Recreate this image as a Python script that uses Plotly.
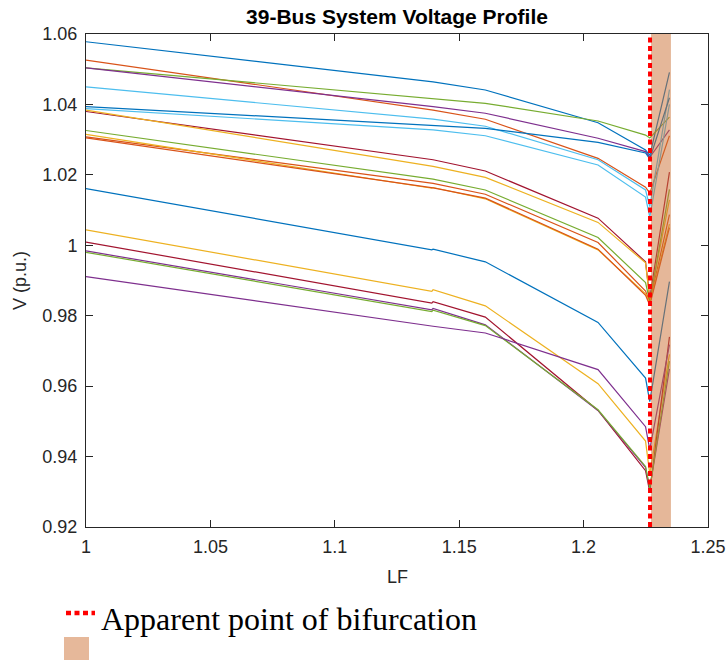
import plotly.graph_objects as go

# ---------------- data ----------------
LF = [1.0, 1.139, 1.1395, 1.1605, 1.2058, 1.2249, 1.2266, 1.2345]

series_names = ["blue1", "orange1", "green1", "purple1", "lb1", "blue2", "lb2",
                "darkred1", "yellow1", "green2", "orange2", "yellow2", "orange3",
                "blue3", "yellow3", "darkred2", "purple2", "green3", "purple3"]

blue1    = [1.0578, 1.0464, 1.0464, 1.0441, 1.0348, 1.0271, 1.0255, 1.0491]
orange1  = [1.0526, 1.0384, 1.0384, 1.0358, 1.0247, 1.0165, 1.0148, 1.0311]
green1   = [1.0504, 1.0415, 1.0415, 1.0403, 1.0353, 1.0313, 1.0305, 1.0364]
purple1  = [1.0504, 1.0394, 1.0394, 1.0375, 1.0304, 1.0266, 1.0250, 1.0328]
lb1      = [1.0450, 1.0358, 1.0358, 1.0338, 1.0243, 1.0157, 1.0110, 1.0442]
blue2    = [1.0394, 1.0339, 1.0339, 1.0332, 1.0292, 1.0262, 1.0245, 1.0419]
lb2      = [1.0388, 1.0328, 1.0328, 1.0311, 1.0228, 1.0137, 1.0080, 1.0400]
darkred1 = [1.0380, 1.0243, 1.0243, 1.0211, 1.0077, 0.9953, 0.9850, 1.0208]
yellow1  = [1.0384, 1.0224, 1.0224, 1.0193, 1.0065, 0.9950, 0.9845, 1.0129]
green2   = [1.0326, 1.0188, 1.0188, 1.0157, 1.0022, 0.9894, 0.9840, 1.0159]
orange2  = [1.0308, 1.0176, 1.0176, 1.0145, 1.0008, 0.9870, 0.9838, 1.0087]
yellow2  = [1.0315, 1.0162, 1.0164, 1.0132, 0.9987, 0.9862, 0.9835, 1.0060]
orange3  = [1.0305, 1.0162, 1.0163, 1.0134, 0.9989, 0.9858, 0.9830, 1.0050]
blue3    = [1.0161, 0.9987, 0.9989, 0.9953, 0.9781, 0.9623, 0.9556, 0.9897]
yellow3  = [1.0044, 0.9869, 0.9874, 0.9828, 0.9607, 0.9444, 0.9350, 0.9690]
darkred2 = [1.0009, 0.9836, 0.9840, 0.9796, 0.9531, 0.9360, 0.9300, 0.9740]
purple2  = [0.9984, 0.9817, 0.9821, 0.9774, 0.9531, 0.9369, 0.9310, 0.9649]
green3   = [0.9980, 0.9812, 0.9816, 0.9772, 0.9533, 0.9372, 0.9310, 0.9671]
purple3  = [0.9911, 0.9770, 0.9770, 0.9751, 0.9647, 0.9485, 0.9420, 0.9718]

series_values = [blue1, orange1, green1, purple1, lb1, blue2, lb2, darkred1, yellow1,
                 green2, orange2, yellow2, orange3, blue3, yellow3, darkred2, purple2,
                 green3, purple3]

BLUE, ORANGE, YELLOW, PURPLE = "#0072BD", "#D95319", "#EDB120", "#7E2F8E"
GREEN, LBLUE, DRED = "#77AC30", "#4DBEEE", "#A2142F"
series_colors = [BLUE, ORANGE, GREEN, PURPLE, LBLUE, BLUE, LBLUE, DRED, YELLOW,
                 GREEN, ORANGE, YELLOW, ORANGE, BLUE, YELLOW, DRED, PURPLE, GREEN, PURPLE]

bifurcation_LF = 1.2267
region_LF = [1.2271, 1.2351]
y_range = [0.92, 1.06]
x_range = [1.0, 1.25]

xtick_vals = [1.0, 1.05, 1.1, 1.15, 1.2, 1.25]
xtick_text = ["1", "1.05", "1.1", "1.15", "1.2", "1.25"]
ytick_vals = [0.92, 0.94, 0.96, 0.98, 1.0, 1.02, 1.04, 1.06]
ytick_text = ["0.92", "0.94", "0.96", "0.98", "1", "1.02", "1.04", "1.06"]

# ---------------- figure ----------------
fig = go.Figure()
for name, vals, col in zip(series_names, series_values, series_colors):
    fig.add_trace(go.Scatter(x=LF, y=vals, mode="lines", name=name,
                             line=dict(color=col, width=1.2), showlegend=False,
                             hoverinfo="skip"))

# shaded region (drawn above the curves, translucent)
fig.add_trace(go.Scatter(
    x=[region_LF[0], region_LF[1], region_LF[1], region_LF[0], region_LF[0]],
    y=[y_range[0], y_range[0], y_range[1], y_range[1], y_range[0]],
    mode="lines", fill="toself", fillcolor="rgba(204,112,52,0.5)",
    line=dict(width=0), showlegend=False, hoverinfo="skip"))

# apparent bifurcation line
fig.add_trace(go.Scatter(
    x=[bifurcation_LF, bifurcation_LF], y=y_range, mode="lines",
    line=dict(color="#FF0000", width=4, dash="5px,3.5px"),
    showlegend=False, hoverinfo="skip"))

W, H = 727, 660
L, R, T, B = 86, 19, 34, 133
pw, ph = W - L - R, H - T - B

def px(xp):
    return (xp - L) / pw

def py(yp):
    return (H - B - yp) / ph

axis_common = dict(showline=True, linecolor="#262626", linewidth=1, mirror="ticks",
                   ticks="inside", ticklen=7, tickwidth=1, tickcolor="#262626",
                   showgrid=False, zeroline=False, automargin=False,
                   tickfont=dict(family="Liberation Sans, Arial", size=18, color="#262626"))

fig.update_layout(
    width=W, height=H,
    margin=dict(l=L, r=R, t=T, b=B, pad=0, autoexpand=False),
    paper_bgcolor="white", plot_bgcolor="white", showlegend=False,
    title=dict(text="<b>39-Bus System Voltage Profile</b>", x=px(397), xref="paper",
               xanchor="center", y=1 - 17 / H, yanchor="middle",
               font=dict(family="Liberation Sans, Arial", size=21, color="#000000")),
    xaxis=dict(range=x_range, tickvals=xtick_vals, ticktext=xtick_text,
               ticklabelstandoff=3, **axis_common),
    yaxis=dict(range=y_range, tickvals=ytick_vals, ticktext=ytick_text,
               ticklabelstandoff=4, **axis_common),
    shapes=[
        dict(type="line", xref="paper", yref="paper", x0=px(66), x1=px(95),
             y0=py(613), y1=py(613), line=dict(color="#FF0000", width=4.5, dash="5px,3.5px")),
        dict(type="rect", xref="paper", yref="paper", x0=px(64), x1=px(89),
             y0=py(637), y1=py(662), line=dict(width=0), fillcolor="#E6B89A"),
    ],
    annotations=[
        dict(text="LF", xref="paper", yref="paper", x=px(397), y=py(577),
             xanchor="center", yanchor="middle", showarrow=False,
             font=dict(family="Liberation Sans, Arial", size=18, color="#262626")),
        dict(text="V (p.u.)", xref="paper", yref="paper", x=px(20), y=py(281),
             xanchor="center", yanchor="middle", showarrow=False, textangle=-90,
             font=dict(family="Liberation Sans, Arial", size=18, color="#262626")),
        dict(text="Apparent point of bifurcation", xref="paper", yref="paper",
             x=px(99), y=py(619), xanchor="left", yanchor="middle", showarrow=False,
             font=dict(family="Liberation Serif, Times New Roman", size=32, color="#000000")),
    ],
)

fig.write_html("out.html")
